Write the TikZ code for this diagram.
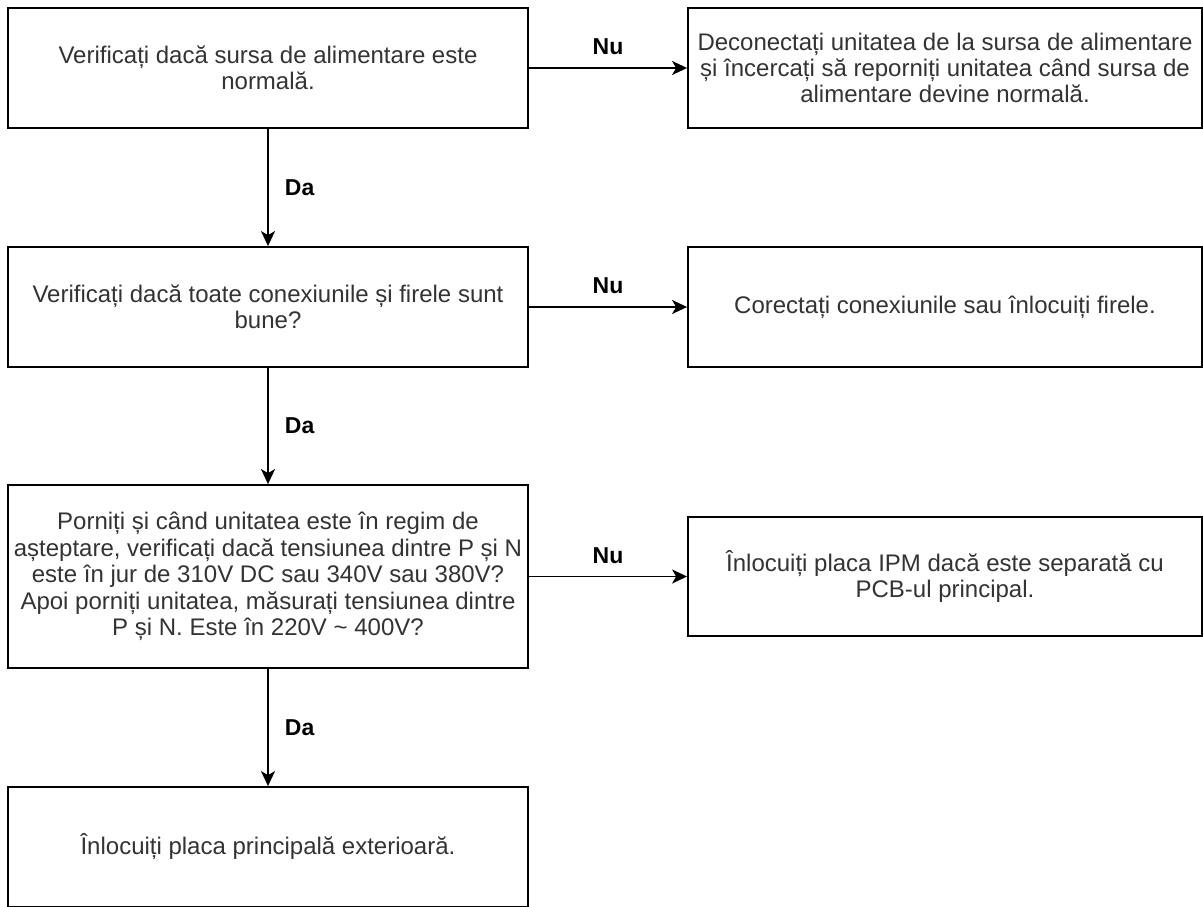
\documentclass[tikz,border=0pt]{standalone}
\usepackage{fontspec}
\setmainfont{Liberation Sans}
\usetikzlibrary{arrows.meta}
\definecolor{txt}{RGB}{51,51,51}
\begin{document}
\begin{tikzpicture}[x=1pt,y=-1pt,
  stepbox/.style={draw=black, line width=1.8pt, fill=white, rectangle,
    align=center, inner sep=4pt, text=txt,
    font=\fontsize{24}{26.4}\selectfont},
  arr/.style={draw=black, line width=1.8pt,
    -{Stealth[length=15pt, width=14pt, inset=4pt]}},
  lbl/.style={font=\fontsize{23}{26}\selectfont\bfseries, text=black, inner sep=0pt}]
  \useasboundingbox (0,0) rectangle (1203,907);

  % left column: checks
  \node[stepbox, minimum width=520pt, minimum height=120pt] (l1) at (268,68)
    {Verificați dacă sursa de alimentare este\\normală.};
  \node[stepbox, minimum width=520pt, minimum height=120pt] (l2) at (268,307)
    {Verificați dacă toate conexiunile și firele sunt\\bune?};
  \node[stepbox, minimum width=520pt, minimum height=183pt] (l3) at (268,576.5)
    {Porniți și când unitatea este în regim de\\așteptare, verificați dacă tensiunea dintre P și N\\este în jur de 310V DC sau 340V sau 380V?\\Apoi porniți unitatea, măsurați tensiunea dintre\\P și N. Este în 220V \textasciitilde{} 400V?};
  \node[stepbox, minimum width=520pt, minimum height=120pt] (l4) at (268,847)
    {Înlocuiți placa principală exterioară.};

  % right column: remedies
  \node[stepbox, minimum width=514pt, minimum height=120pt] (r1) at (945,68)
    {Deconectați unitatea de la sursa de alimentare\\și încercați să reporniți unitatea când sursa de\\alimentare devine normală.};
  \node[stepbox, minimum width=514pt, minimum height=120pt] (r2) at (945,307)
    {Corectați conexiunile sau înlocuiți firele.};
  \node[stepbox, minimum width=514pt, minimum height=119pt] (r3) at (945,576.5)
    {Înlocuiți placa IPM dacă este separată cu\\PCB-ul principal.};

  % "Nu" branches
  \draw[arr] (l1.east) -- (r1.west) node[lbl, midway, above=12pt] {Nu};
  \draw[arr] (l2.east) -- (r2.west) node[lbl, midway, above=12pt] {Nu};
  \draw[arr] (l3.east) -- (r3.west) node[lbl, midway, above=12pt] {Nu};

  % "Da" branches
  \draw[arr] (l1.south) -- (l2.north) node[lbl, midway, right=16pt] {Da};
  \draw[arr] (l2.south) -- (l3.north) node[lbl, midway, right=16pt] {Da};
  \draw[arr] (l3.south) -- (l4.north) node[lbl, midway, right=16pt] {Da};
\end{tikzpicture}
\end{document}
